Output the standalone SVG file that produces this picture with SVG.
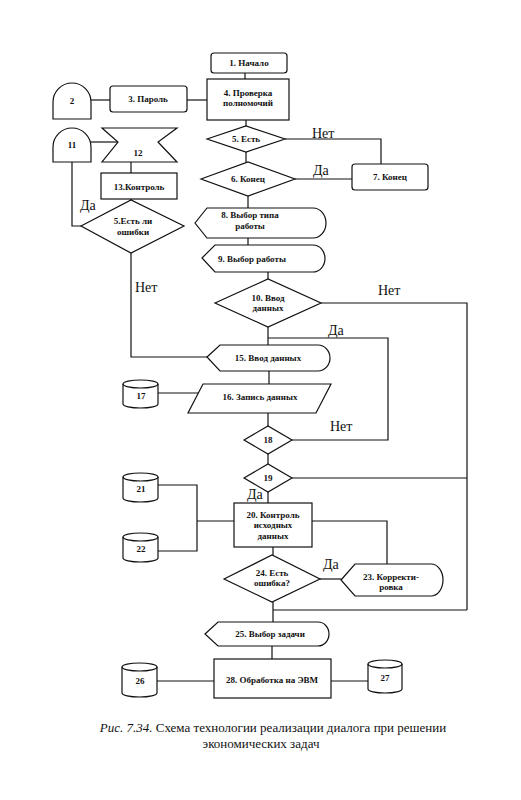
<svg xmlns="http://www.w3.org/2000/svg" width="521" height="800" viewBox="0 0 521 800">
<style>
.s{fill:#fff;stroke:#111;stroke-width:1.2}
.c{fill:none;stroke:#111;stroke-width:1.2}
.t{font-family:"Liberation Serif",serif;font-size:9px;font-weight:bold;text-anchor:middle;fill:#111}
.l{font-family:"Liberation Serif",serif;font-size:14px;fill:#111}
.cap{font-family:"Liberation Serif",serif;font-size:13px;fill:#111;text-anchor:middle}
</style>
<rect width="521" height="800" fill="#fff"/>
<g id="connectors">
<path class="c" d="M245,73V79"/>
<path class="c" d="M91,100H110"/>
<path class="c" d="M187,100H207"/>
<path class="c" d="M246,120V126"/>
<path class="c" d="M285,139H381V164"/>
<path class="c" d="M246,152V162"/>
<path class="c" d="M295,179H352"/>
<path class="c" d="M248,196V208"/>
<path class="c" d="M248,238V245"/>
<path class="c" d="M268,272V279"/>
<path class="c" d="M321,303H467V610"/>
<path class="c" d="M268,327V345"/>
<path class="c" d="M268,338H388V440H292"/>
<path class="c" d="M269,371V384"/>
<path class="c" d="M158,393H199"/>
<path class="c" d="M268,413V426"/>
<path class="c" d="M268,454V464"/>
<path class="c" d="M292,478H467"/>
<path class="c" d="M268,492V503"/>
<path class="c" d="M158,485H197V551H158M197,521H234"/>
<path class="c" d="M312,521H387V564"/>
<path class="c" d="M273,547V555"/>
<path class="c" d="M320,579H341"/>
<path class="c" d="M273,602V622M273,610H467"/>
<path class="c" d="M272,646V659"/>
<path class="c" d="M157,681H214"/>
<path class="c" d="M331,681H368"/>
<path class="c" d="M91,142H118"/>
<path class="c" d="M131,162V173"/>
<path class="c" d="M131,199V200"/>
<path class="c" d="M72,162V226H81"/>
<path class="c" d="M131,253V357H207"/>
<text class="l" x="312" y="138">Нет</text>
<text class="l" x="313" y="175">Да</text>
<text class="l" x="80" y="210">Да</text>
<text class="l" x="135" y="292">Нет</text>
<text class="l" x="378" y="295">Нет</text>
<text class="l" x="328" y="335">Да</text>
<text class="l" x="330" y="431">Нет</text>
<text class="l" x="247" y="499">Да</text>
<text class="l" x="323" y="569">Да</text>
</g>
<g id="n1"><rect class="s" x="211" y="53" width="76" height="20" rx="3"/><text class="t" x="249" y="66">1. Начало</text></g>
<g id="n4"><rect class="s" x="207" y="79" width="82" height="41"/><text class="t" x="248" y="96">4. Проверка</text><text class="t" x="248" y="106">полномочий</text></g>
<g id="n2"><path class="s" d="M53,119V102A19,19 0 0 1 91,102V119Z"/><text class="t" x="72" y="104">2</text></g>
<g id="n3"><rect class="s" x="110" y="86" width="77" height="26" rx="3"/><text class="t" x="148" y="102">3. Пароль</text></g>
<g id="n5"><polygon class="s" points="207,139 246,126 285,139 246,152"/><text class="t" x="246" y="142">5. Есть</text></g>
<g id="n6"><polygon class="s" points="201,179 248,162 295,179 248,196"/><text class="t" x="248" y="182">6. Конец</text></g>
<g id="n7"><rect class="s" x="352" y="164" width="76" height="26" rx="3"/><text class="t" x="390" y="180">7. Конец</text></g>
<g id="n11"><path class="s" d="M53,162V147A19,19 0 0 1 91,147V162Z"/><text class="t" x="72" y="148">11</text></g>
<g id="n12"><polygon class="s" points="102,128 177,128 158,142 177,162 102,162 118,142"/><text class="t" x="138" y="156">12</text></g>
<g id="n13"><rect class="s" x="101" y="173" width="76" height="26"/><text class="t" x="139" y="190">13.Контроль</text></g>
<g id="n5b"><polygon class="s" points="81,226 131,200 184,226 131,253"/><text class="t" x="133" y="224">5.Есть ли</text><text class="t" x="133" y="235">ошибки</text></g>
<g id="n8"><path class="s" d="M195,223L207,208H313A13,15 0 0 1 313,238H207Z"/><text class="t" x="250" y="218">8. Выбор типа</text><text class="t" x="250" y="229">работы</text></g>
<g id="n9"><path class="s" d="M202,258L215,245H313A12,13.5 0 0 1 313,272H215Z"/><text class="t" x="252" y="262">9. Выбор работы</text></g>
<g id="n10"><polygon class="s" points="215,303 268,279 321,303 268,327"/><text class="t" x="268" y="301">10. Ввод</text><text class="t" x="268" y="311">данных</text></g>
<g id="n15"><path class="s" d="M207,357L220,345H318A12,13 0 0 1 318,371H220Z"/><text class="t" x="268" y="361">15. Ввод данных</text></g>
<g id="n16"><polygon class="s" points="203,384 331,384 316,413 188,413"/><text class="t" x="260" y="400">16. Запись данных</text></g>
<g id="n17"><path class="s" d="M123,384A17.5,4 0 0 1 158,384V404A17.5,4 0 0 1 123,404Z"/><path class="c" d="M123,384A17.5,4 0 0 0 158,384"/><text class="t" x="141" y="399">17</text></g>
<g id="n18"><polygon class="s" points="244,440 268,426 292,440 268,454"/><text class="t" x="268" y="443">18</text></g>
<g id="n19"><polygon class="s" points="244,478 268,464 292,478 268,492"/><text class="t" x="268" y="481">19</text></g>
<g id="n20"><rect class="s" x="234" y="503" width="78" height="44"/><text class="t" x="273" y="518">20. Контроль</text><text class="t" x="273" y="528">исходных</text><text class="t" x="273" y="539">данных</text></g>
<g id="n21"><path class="s" d="M123,477A17.5,4 0 0 1 158,477V498A17.5,4 0 0 1 123,498Z"/><path class="c" d="M123,477A17.5,4 0 0 0 158,477"/><text class="t" x="141" y="492">21</text></g>
<g id="n22"><path class="s" d="M123,537A17.5,4 0 0 1 158,537V558A17.5,4 0 0 1 123,558Z"/><path class="c" d="M123,537A17.5,4 0 0 0 158,537"/><text class="t" x="141" y="552">22</text></g>
<g id="n24"><polygon class="s" points="224,579 272,555 320,579 272,602"/><text class="t" x="272" y="576">24. Есть</text><text class="t" x="272" y="586">ошибка?</text></g>
<g id="n23"><path class="s" d="M341,580L355,564H431A12,16 0 0 1 431,596H355Z"/><text class="t" x="391" y="580">23. Корректи-</text><text class="t" x="391" y="590">ровка</text></g>
<g id="n25"><path class="s" d="M205,634L218,622H318A11,12 0 0 1 318,646H218Z"/><text class="t" x="270" y="637">25. Выбор задачи</text></g>
<g id="n28"><rect class="s" x="214" y="659" width="117" height="39"/><text class="t" x="272" y="683">28. Обработка на ЭВМ</text></g>
<g id="n26"><path class="s" d="M122,667A17.5,4 0 0 1 157,667V693A17.5,4 0 0 1 122,693Z"/><path class="c" d="M122,667A17.5,4 0 0 0 157,667"/><text class="t" x="140" y="684">26</text></g>
<g id="n27"><path class="s" d="M368,664A17,4 0 0 1 402,664V689A17,4 0 0 1 368,689Z"/><path class="c" d="M368,664A17,4 0 0 0 402,664"/><text class="t" x="385" y="681">27</text></g>
<g id="caption">
<text class="cap" x="273" y="732"><tspan font-style="italic">Рис. 7.34.</tspan> Схема технологии реализации диалога при решении</text>
<text class="cap" x="261" y="748">экономических задач</text>
</g>
</svg>
